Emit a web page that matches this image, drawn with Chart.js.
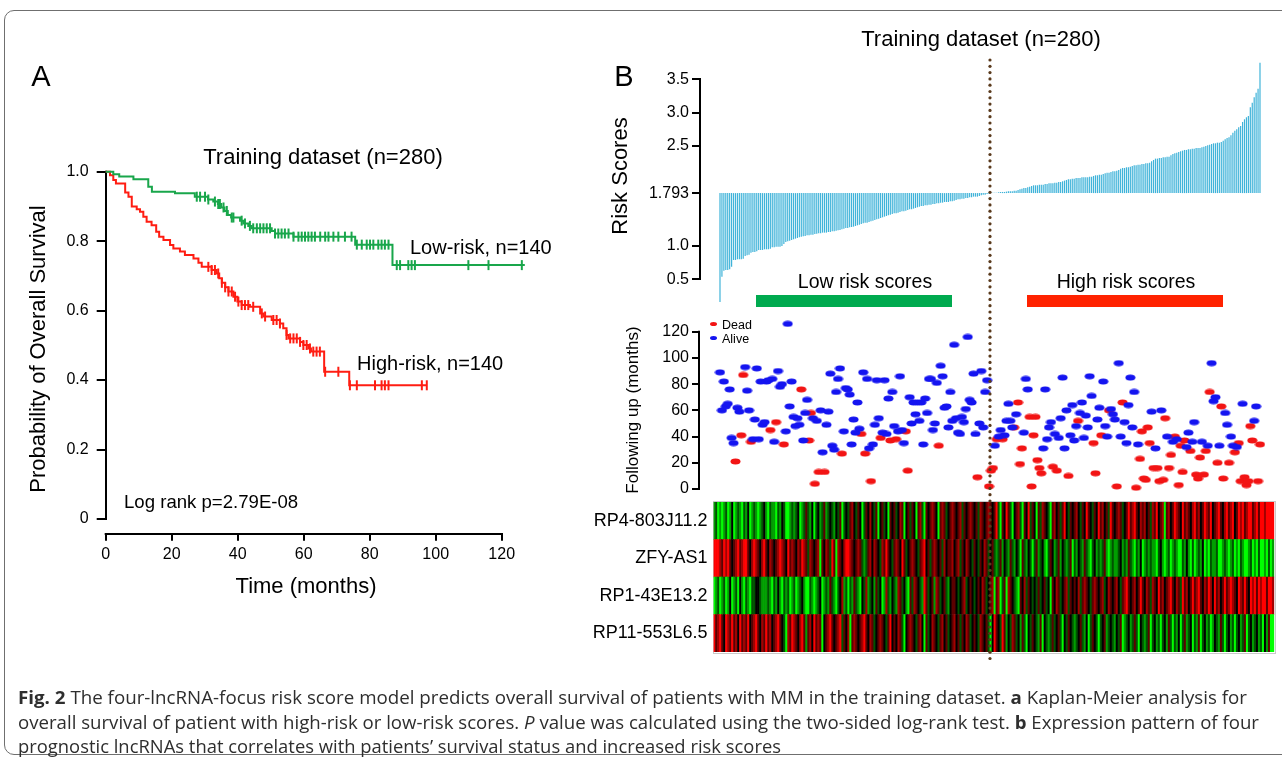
<!DOCTYPE html>
<html>
<head>
<meta charset="utf-8">
<title>Fig. 2 - four-lncRNA risk score model</title>
<script src="https://cdn.jsdelivr.net/npm/chart.js@4.4.1/dist/chart.umd.min.js"></script>
<style>
html,body{margin:0;padding:0;background:#fff;}
body{position:relative;width:1282px;height:757px;overflow:hidden;font-family:"Liberation Sans",Arial,Helvetica,sans-serif;color:#000;}
canvas.layer{position:absolute;left:0;top:0;}
.txt{position:absolute;white-space:nowrap;line-height:1;}
#frame{position:absolute;left:4px;top:10px;width:1300px;height:743px;border:1px solid #6f6f6f;border-radius:10px;}
.cap{position:absolute;left:18px;white-space:nowrap;line-height:1;font-family:"Open Sans","Liberation Sans",sans-serif;font-size:18px;color:#2e2e2e;transform-origin:0 50%;}
.legdot{position:absolute;width:7px;height:4px;border-radius:50%;}
.hbar{position:absolute;height:12px;}
#heatbox{position:absolute;left:713px;top:501px;width:561px;height:151px;border:1px solid #c8c8c8;}
</style>
</head>
<body>
<div id="frame"></div>
<canvas id="km" class="layer" width="1282" height="757"></canvas>
<canvas id="risk" class="layer" width="1282" height="757"></canvas>
<canvas id="fu" class="layer" width="1282" height="757"></canvas>
<div id="heatbox"></div>
<canvas id="heat" class="layer" width="1282" height="757"></canvas>
<canvas id="dots" class="layer" width="1282" height="757"></canvas>
<div id="texts"></div>
<script>
// ---------------- DATA ----------------
// Panel A: Kaplan-Meier step points (time in months, survival probability)
const kmLowTime  = [0, 2.3, 4.1, 8.4, 12.9, 14, 21, 27, 31, 32.6, 34, 35, 36, 37, 38, 40.7, 41.7, 43.2, 44.2, 50.3, 51.3, 56.9, 75.6, 86.9, 127];
const kmLowSurv  = [1, 0.993, 0.986, 0.978, 0.957, 0.942, 0.938, 0.928, 0.92, 0.914, 0.907, 0.897, 0.887, 0.875, 0.868, 0.859, 0.851, 0.844, 0.837, 0.829, 0.822, 0.813, 0.79, 0.731, 0.731];
const kmHighTime = [0, 1.3, 2.3, 3.1, 5.9, 6.9, 7.9, 9.4, 10.4, 11.4, 12.4, 13.9, 15.3, 16.2, 17.5, 19.5, 20.5, 22.5, 24, 26.6, 28.1, 29.1, 32.1, 33.6, 34.4, 35.2, 36.2, 37.2, 38.7, 39.9, 41.2, 43.7, 46.8, 47.8, 50.3, 52.8, 53.8, 54.8, 55.4, 58.9, 59.9, 61.4, 62.2, 66.2, 73.8, 97.3];
const kmHighSurv = [1, 0.99, 0.976, 0.966, 0.94, 0.928, 0.9, 0.892, 0.885, 0.87, 0.856, 0.846, 0.827, 0.813, 0.803, 0.789, 0.779, 0.77, 0.76, 0.75, 0.738, 0.726, 0.717, 0.707, 0.693, 0.68, 0.667, 0.655, 0.64, 0.626, 0.616, 0.611, 0.592, 0.583, 0.573, 0.563, 0.549, 0.53, 0.52, 0.51, 0.501, 0.491, 0.482, 0.424, 0.385, 0.385];
const kmLowCensor  = [27.6, 28.6, 30.1, 31.1, 33.1, 34.1, 34.6, 35.7, 36.7, 38.2, 38.7, 41.2, 42.2, 43.7, 44.7, 45.8, 46.8, 47.8, 48.8, 49.8, 51.3, 52.3, 53.3, 54.3, 55.4, 56.9, 58.4, 59.4, 60.4, 61.4, 62.4, 63.4, 65, 66.5, 67.5, 69, 70.5, 72.5, 74.5, 76.1, 77.6, 79.1, 80.1, 81.1, 82.6, 83.6, 84.6, 85.7, 88.2, 89.2, 91.7, 92.7, 93.7, 109.9, 116, 126.1];
const kmHighCensor = [31.1, 32.1, 33.1, 34.1, 35.2, 36.2, 37.2, 38.2, 39.2, 40.2, 41.2, 42.2, 43.2, 44.7, 47.3, 48.3, 50.8, 51.8, 52.8, 54.8, 55.9, 56.9, 57.9, 58.9, 59.9, 60.9, 61.9, 62.9, 63.9, 64.9, 66.5, 70.5, 74.0, 76.1, 81.6, 83.6, 84.6, 85.7, 95.8, 97.3];
const kmXTicks = [0, 20, 40, 60, 80, 100, 120];
const kmYTicks = [0, 0.2, 0.4, 0.6, 0.8, 1.0];

// Panel B: sorted risk scores of 280 patients (cut-off 1.793)
const RISK_CUT = 1.793;
const riskScores = [
 0.16,0.54,0.63,0.64,0.64,0.65,0.69,0.79,0.79,0.80, 0.80,0.80,0.81,0.85,0.86,0.87,0.90,0.91,0.91,0.92,
 0.94,0.94,0.94,0.95,0.95,0.95,0.96,0.98,0.98,0.99, 0.99,0.99,1.00,1.03,1.06,1.07,1.08,1.09,1.10,1.11,
 1.12,1.13,1.14,1.145,1.15,1.16,1.16,1.17,1.17,1.18, 1.185,1.19,1.19,1.20,1.20,1.20,1.21,1.21,1.22,1.22,
 1.23,1.235,1.24,1.25,1.26,1.27,1.27,1.28,1.285,1.29, 1.30,1.31,1.32,1.33,1.34,1.35,1.35,1.36,1.37,1.38,
 1.39,1.40,1.41,1.42,1.43,1.44,1.45,1.46,1.47,1.48, 1.49,1.49,1.50,1.51,1.52,1.52,1.53,1.54,1.55,1.55,
 1.56,1.57,1.58,1.59,1.60,1.60,1.61,1.61,1.62,1.62, 1.63,1.63,1.64,1.64,1.65,1.65,1.66,1.66,1.66,1.67,
 1.67,1.68,1.69,1.70,1.70,1.71,1.71,1.72,1.72,1.73, 1.73,1.74,1.74,1.74,1.75,1.76,1.77,1.77,1.78,1.785,
 1.795,1.80,1.80,1.80,1.805,1.81,1.81,1.81,1.815,1.82, 1.82,1.82,1.83,1.83,1.84,1.85,1.86,1.87,1.87,1.88,
 1.89,1.90,1.91,1.91,1.91,1.92,1.92,1.92,1.93,1.93, 1.94,1.94,1.94,1.95,1.95,1.96,1.96,1.97,1.98,1.99,
 2.00,2.00,2.01,2.01,2.02,2.02,2.02,2.03,2.03,2.03, 2.03,2.04,2.04,2.05,2.06,2.06,2.07,2.07,2.08,2.09,
 2.10,2.10,2.11,2.12,2.12,2.13,2.14,2.16,2.17,2.17, 2.18,2.18,2.19,2.20,2.21,2.21,2.22,2.22,2.23,2.23,
 2.24,2.24,2.25,2.27,2.29,2.31,2.31,2.32,2.32,2.33, 2.33,2.34,2.34,2.36,2.38,2.39,2.40,2.41,2.42,2.43,
 2.44,2.44,2.45,2.45,2.46,2.46,2.47,2.47,2.47,2.48, 2.49,2.50,2.51,2.52,2.53,2.54,2.54,2.55,2.55,2.56,
 2.58,2.60,2.62,2.63,2.66,2.70,2.73,2.75,2.78,2.80, 2.86,2.90,2.93,2.95,3.08,3.15,3.23,3.30,3.36,3.75
];
const riskTicks = [0.5, 1.0, 1.793, 2.5, 3.0, 3.5];
const riskTickLabels = ['0.5', '1.0', '1.793', '2.5', '3.0', '3.5'];

// Follow-up time (months) per patient, same order as riskScores; status 1 = Dead, 0 = Alive
const followMonths = [
 89,60,82,63,65,76,39,35,21,62, 59,41,87,93,75,60,36,38,53,92, 38,82,49,51,82,83,45,84,36,51,
 90,78,80,34,44,126,63,82,55,48, 54,49,76,37,58,68,37,58,54,4, 52,13,60,28,13,49,59,88,33,30,
 74,84,92,27,44,77,76,72,34,53, 43,66,46,42,89,27,84,31,6,34, 49,83,54,39,43,83,42,69,37,74,
 48,38,44,86,45,35,44,14,70,50, 66,57,66,52,66,34,69,58,84,84, 45,50,81,33,94,86,62,63,47,74,
 52,110,54,43,42,55,51,61,116,68, 66,88,42,9,50,90,47,74,83,2,
 14,16,33,38,40,45,38,41,52,65, 52,47,47,57,66,19,31,43,84,76, 55,2,41,55,22,16,12,31,76,38,
 47,51,17,42,14,39,54,85,31,60, 10,41,64,37,48,52,58,66,39,56, 47,86,71,35,12,53,62,41,82,48,
 40,60,61,57,53,2,96,40,66,51, 35,64,85,47,74,1,34,23,44,8, 7,47,35,59,16,31,16,6,60,7,
 54,40,16,26,36,40,38,3,33,13, 37,32,43,29,36,51,11,8,24,36, 11,29,33,74,96,67,70,20,33,63,
 8,58,49,20,40,33,28,32,35,6, 65,9,3,6,48,37,52,63,6,34
];
const followDead = [
 0,0,0,0,0,0,0,0,1,0, 0,1,1,0,0,0,1,0,0,0, 0,0,0,0,0,0,1,0,0,1, 0,0,0,1,0,0,0,0,0,0,
 0,0,1,0,0,0,1,1,0,1, 0,1,0,0,1,0,0,0,0,0, 0,0,0,1,0,0,0,0,0,0, 0,0,0,1,0,1,0,0,1,0,
 0,0,0,1,0,0,0,0,1,0, 0,1,0,0,0,0,1,1,0,0, 0,0,0,0,0,0,0,0,0,0, 0,0,0,1,0,0,0,0,0,0,
 0,0,0,0,0,0,0,0,0,0, 0,0,0,1,0,0,0,0,0,1,
 1,1,0,1,0,0,1,0,0,0, 0,0,1,0,1,1,1,0,0,0, 1,1,1,1,1,1,1,0,0,0, 0,0,1,0,1,0,0,0,0,0,
 1,0,0,0,0,1,0,0,0,0, 0,0,0,1,1,0,0,1,0,0, 0,1,0,0,0,1,0,0,1,0, 0,0,0,0,0,1,0,1,1,1,
 1,1,1,0,1,0,1,1,0,1, 1,0,1,1,0,1,0,1,1,1, 1,0,0,1,0,0,1,1,1,0, 1,1,0,1,0,0,0,1,0,1,
 1,0,0,1,0,0,1,0,1,1, 0,1,1,1,1,1,0,0,1,1
];
const followTicks = [0, 20, 40, 60, 80, 100, 120];

// Heatmap: expression level codes per patient (G bright green ... k black ... R bright red)
const heatGenes = ['RP4-803J11.2', 'ZFY-AS1', 'RP1-43E13.2', 'RP11-553L6.5'];
const heatRP4 = [
 'gdGgGgdGgk','GgdgGdgkGg','dgGgdkgGdg','gGdgkdGGgd','gdkGgdmdgk','Gdkgdmgdkd','gkdmGdkdmr',
 'kdmkGdmkrk','dmGkmdkGmk','mdkrmGkmdm','kGmrdGmkmr','mkGmrmdkmr','mkmrdmkmrm','kmdrmkmrmk',
 'mRdGmkRmdG','kmrdGmkRdm','kGmdrmkdGm','rkmdmRkdmk','mrkdmkRmkd','mkRmrkmdRm','kmrmdkmRmr',
 'Rmkrmrkmdr','mRkmrGmrkm','RrmkRmrmkr','RmrkmRrmRk','mrRmkrRmrR','kmRrRmrRRm','rRmRRrRRRR'
];
const heatZFY = [
 'RRRrmRrRmk','mrRmrRRmkr','RrmkrRmkrm','kmrRrmkRmr','mkrmRrmdrm','kmrGmkrmdR','mGrmkrRRrm',
 'kmrmdgdmrk','rmkdrmRmkd','mrmkRmdkmr','mkdmrRkmdm','rmkmdrkmmr','kmrdmkrmkd','mkdmkrmdkm',
 'dgdmgkdgmd','gkdGmdgkdG','dmgdkgGdmk','gdmgkdgdmG','dgkdgmdgGd','kgdgdmgGgd','ggdkgdgmdg',
 'GdgkGgdgdg','gGdkgGgdGg','dgGGdgkgGd','GgdgkGgGdg','gdGGgdgGgd','GgGdgGGgdG','gGdGGgGdGg'
];
const heatRP1 = [
 'GgdGgdGgkG','gdGkgGdgGd','dkkdgggdgG','dgkgGdgdGg','dGgdkgGGdg','GgdkGgdgmd','gGdkrgdGdg',
 'mdgGkdrgdk','gmdkGgrdgk','dgrmdkgGmd','rmkdgRmdkm','grmdkmdgkm','mkdkmrdkmk','dkmkrmdkmr',
 'GmrGdmGrmk','dgGmkrdmkd','kdmdkmdkGm','krmdkmrdmk','mkrdmrmkdm','rmkmrdkrmk','mrkdmrRmkm',
 'rkmRmkrmdr','mkRmrkmrRm','krmdRmrkmR','mrRmkrmRrk','RmrkmRmrRr','mkRrmRmkRr','RmRrRRmRRr'
];
const heatRP11 = [
 'RmrRmkRrmR','mrkRmrmRkm','rRmkrmRmrk','mrRmkdGrmR','rmkrRmgmrk','RmrmGkmrRm','kmrRdmkrGm',
 'rmkmrRmkrm','dkmrmkdmRk','mkrmdGkmrm','kdmrkGmdkr','mkdmrkmdkm','rkmdmkrmdk','mkdrmkmdGk',
 'RmkdRmgkdr','mdkgmdGkdm','kdgmGkdgdm','dkmdGkdmkd','gdkmdgkGdm','kdGdkmgdkd','gkdmGgdkgd',
 'mdGkdgdmGd','kgdGdkgmdG','dgkGdmgdkG','dgmGdkgdGg','kdgmdGdkgd','GdkgdmGdkg','dkgdGkgmGG'
];
const heatLevel = {G: -1, g: -0.62, d: -0.32, k: 0, m: 0.36, r: 0.64, R: 1};

// ---------------- HELPERS ----------------
const FONT = '"Liberation Sans", Arial, Helvetica, sans-serif';
Chart.defaults.font.family = FONT;
Chart.defaults.color = '#000';
const GREEN = '#19a64b', RED = '#ff1d12', BLUE_BAR = '#3fb3d9';

const fixW = w => s => { s.width = w; };
const fixH = h => s => { s.height = h; };
const setTicks = vals => s => { s.ticks = vals.map(v => ({value: v})); };
function survAt(times, surv, t) { let s = surv[0]; for (let i = 0; i < times.length; i++) if (times[i] <= t) s = surv[i]; return s; }
function levelColor(c) {
  const v = heatLevel[c];
  return v < 0 ? `rgb(0,${Math.round(-v * 255)},0)` : `rgb(${Math.round(v * 255)},0,0)`;
}
function ellipseImg(color) {
  const c = document.createElement('canvas'); c.width = 11; c.height = 7;
  const x = c.getContext('2d'); x.fillStyle = color; x.beginPath(); x.ellipse(5.5, 3.5, 5, 2.9, 0, 0, Math.PI * 2); x.fill();
  return c;
}
const W = 1282, H = 757;
const baseOpts = {responsive: false, animation: false, devicePixelRatio: 1, events: [],
  plugins: {legend: {display: false}, tooltip: {enabled: false}}};
const tickGrid = (len) => ({display: true, drawOnChartArea: false, drawTicks: true, tickLength: len, color: '#000', lineWidth: 2});

// ---------------- PANEL A : KM ----------------
(function () {
  const areaL = 105.7, pxPerMonth = 3.3, xMax = 130, areaTop = 171.7, areaBottom = 532.7;
  const y0 = 519; // pixel of survival 0
  const yMin = -(areaBottom - y0) / (y0 - areaTop);
  const areaR = areaL + xMax * pxPerMonth;
  const kmAxis = {id: 'kmAxis', beforeDatasetsDraw(c) {
    const ctx = c.ctx, xs = c.scales.x, ys = c.scales.y;
    ctx.save(); ctx.strokeStyle = '#000'; ctx.lineWidth = 2;
    const px = Math.round(xs.getPixelForValue(0));
    ctx.beginPath(); ctx.moveTo(px, ys.getPixelForValue(1) - 1); ctx.lineTo(px, ys.getPixelForValue(0) + 1); ctx.stroke();
    const py = Math.round(c.chartArea.bottom) + 1;
    ctx.beginPath(); ctx.moveTo(xs.getPixelForValue(0) - 1, py); ctx.lineTo(xs.getPixelForValue(120) + 1, py); ctx.stroke();
    ctx.restore();
  }};
  new Chart(document.getElementById('km'), {
    type: 'line',
    data: {datasets: [
      {data: kmLowTime.map((t, i) => ({x: t, y: kmLowSurv[i]})), stepped: 'before', borderColor: GREEN, borderWidth: 2, pointRadius: 0, fill: false, clip: false},
      {data: kmHighTime.map((t, i) => ({x: t, y: kmHighSurv[i]})), stepped: 'before', borderColor: RED, borderWidth: 2, pointRadius: 0, fill: false, clip: false},
      {data: kmLowCensor.map(t => ({x: t, y: survAt(kmLowTime, kmLowSurv, t)})), showLine: false, pointStyle: 'line', pointRotation: 90, pointRadius: 5, pointBorderWidth: 2, pointBorderColor: GREEN, borderColor: GREEN, clip: false},
      {data: kmHighCensor.map(t => ({x: t, y: survAt(kmHighTime, kmHighSurv, t)})), showLine: false, pointStyle: 'line', pointRotation: 90, pointRadius: 5, pointBorderWidth: 2, pointBorderColor: RED, borderColor: RED, clip: false}
    ]},
    options: Object.assign({}, baseOpts, {
      layout: {padding: {left: areaL - 60, right: W - areaR, top: areaTop, bottom: H - areaBottom - 40}},
      scales: {
        x: {type: 'linear', min: 0, max: xMax, afterFit: fixH(40), afterBuildTicks: setTicks(kmXTicks),
            border: {display: false}, grid: tickGrid(8),
            ticks: {font: {size: 16}, padding: 4, maxRotation: 0, callback: v => String(v)}},
        y: {type: 'linear', min: yMin, max: 1, afterFit: fixW(60), afterBuildTicks: setTicks(kmYTicks),
            border: {display: false}, grid: tickGrid(9),
            ticks: {font: {size: 16}, padding: 8, callback: v => (v === 0 ? '0' : v.toFixed(1))}}
      }
    }),
    plugins: [kmAxis]
  });
})();

// ---------------- PANEL B : risk scores ----------------
const xMinB = -10.33, xMaxB = 284.17, areaLB = 700, areaRB = 1270;
const riskChart = new Chart(document.getElementById('risk'), {
  type: 'bar',
  data: {datasets: [{data: riskScores.map((v, i) => ({x: i, y: [RISK_CUT, v]})), backgroundColor: BLUE_BAR,
    borderWidth: 0, barPercentage: 0.62, categoryPercentage: 1, clip: false}]},
  options: Object.assign({}, baseOpts, {
    layout: {padding: {left: areaLB - 50, right: W - areaRB, top: 79.3, bottom: H - 279.3}},
    scales: {
      x: {type: 'linear', min: xMinB, max: xMaxB, offset: false, grid: {offset: false}, display: false},
      y: {type: 'linear', min: 0.5, max: 3.5, afterFit: fixW(50), afterBuildTicks: setTicks(riskTicks),
          border: {display: true, color: '#000', width: 2}, grid: tickGrid(8),
          ticks: {font: {size: 16}, padding: 3, callback: v => riskTickLabels[riskTicks.indexOf(v)]}}
    }
  })
});

// ---------------- PANEL B : follow-up scatter ----------------
(function () {
  const top120 = 331.7, bottom0 = 489, yMax = 130;
  const pxPer = (bottom0 - top120) / 120;
  const areaTop = bottom0 - yMax * pxPer;
  const fuAxis = {id: 'fuAxis', beforeDatasetsDraw(c) {
    const ctx = c.ctx, ys = c.scales.y; ctx.save(); ctx.strokeStyle = '#000'; ctx.lineWidth = 2;
    const px = Math.round(c.chartArea.left) - 1;
    ctx.beginPath(); ctx.moveTo(px, ys.getPixelForValue(120) - 1); ctx.lineTo(px, ys.getPixelForValue(0) + 1); ctx.stroke();
    ctx.restore();
  }};
  const alive = [], dead = [];
  followMonths.forEach((m, i) => (followDead[i] ? dead : alive).push({x: i, y: m}));
  new Chart(document.getElementById('fu'), {
    type: 'scatter',
    data: {datasets: [
      {data: alive, pointStyle: ellipseImg('#1414f0'), pointRadius: 5, clip: false},
      {data: dead, pointStyle: ellipseImg('#f21414'), pointRadius: 5, clip: false}
    ]},
    options: Object.assign({}, baseOpts, {
      layout: {padding: {left: areaLB - 50, right: W - areaRB, top: areaTop, bottom: H - bottom0}},
      scales: {
        x: {type: 'linear', min: xMinB, max: xMaxB, offset: false, display: false},
        y: {type: 'linear', min: 0, max: yMax, afterFit: fixW(50), afterBuildTicks: setTicks(followTicks),
            border: {display: false}, grid: tickGrid(8),
            ticks: {font: {size: 16}, padding: 3}}
      }
    }),
    plugins: [fuAxis]
  });
})();

// ---------------- PANEL B : heatmap ----------------
(function () {
  const rows = [heatRP11, heatRP1, heatZFY, heatRP4]; // bottom to top
  const labelsTopDown = heatGenes;
  const n = heatRP4.join('').length;
  const cats = Array.from({length: n}, (_, i) => i);
  const datasets = rows.map(r => {
    const codes = r.join('').split('');
    return {data: codes.map(() => 1), backgroundColor: codes.map(levelColor), borderWidth: 0,
      barPercentage: 1, categoryPercentage: 1};
  });
  const yLabelPos = [3.5, 2.5, 1.5, 0.5];
  new Chart(document.getElementById('heat'), {
    type: 'bar',
    data: {labels: cats, datasets},
    options: Object.assign({}, baseOpts, {
      layout: {padding: {left: 713.5 - 200, right: W - 1274.3, top: 502, bottom: H - 652}},
      scales: {
        x: {stacked: true, display: false},
        y: {stacked: true, min: 0, max: 4, afterFit: fixW(200), afterBuildTicks: setTicks(yLabelPos),
            border: {display: false}, grid: {display: false, drawTicks: false},
            ticks: {font: {size: 18}, padding: 6, callback: v => labelsTopDown[yLabelPos.indexOf(v)]}}
      }
    })
  });
})();

// ---------------- dotted divider (position from the risk chart x scale) ----------------
(function () {
  const xd = riskChart.scales.x.getPixelForValue(139.5);
  const ctx = document.getElementById('dots').getContext('2d');
  ctx.fillStyle = '#5a3a1c';
  for (let y = 60; y <= 662; y += 6.3) { ctx.beginPath(); ctx.arc(xd, y, 1.6, 0, Math.PI * 2); ctx.fill(); }
})();

// ---------------- texts ----------------
const T = document.getElementById('texts');
function addText(html, x, y, size, o) {
  o = o || {};
  const d = document.createElement('div'); d.className = 'txt'; d.innerHTML = html;
  d.style.fontSize = size + 'px'; d.style.left = x + 'px'; d.style.top = y + 'px';
  if (o.color) d.style.color = o.color;
  if (o.weight) d.style.fontWeight = o.weight;
  let tr = o.align === 'left' ? 'translate(0,-50%)' : 'translate(-50%,-50%)';
  if (o.rotate) tr += ' rotate(' + o.rotate + 'deg)';
  d.style.transform = tr; T.appendChild(d); return d;
}
addText('A', 41, 76, 29);
addText('B', 624, 76, 29);
addText('Training dataset (n=280)', 323, 157, 22);
addText('Training dataset (n=280)', 981, 39, 22);
addText('Probability of Overall Survival', 38, 349, 22, {rotate: -90});
addText('Time (months)', 306, 586, 22);
addText('Low-risk, n=140', 410, 247, 20, {align: 'left'});
addText('High-risk, n=140', 357, 363, 20, {align: 'left'});
addText('Log rank p=2.79E-08', 124, 502, 18.6, {align: 'left'});
addText('Risk Scores', 620, 176, 22, {rotate: -90});
addText('Low risk scores', 865, 282, 19.5);
addText('High risk scores', 1126, 282, 19.5);
addText('Following up (months)', 632, 410, 17, {rotate: -90});
addText('Dead', 722, 325, 12.5, {align: 'left'});
addText('Alive', 722, 339, 12.5, {align: 'left'});
[['#f21414', 324], ['#1414f0', 338]].forEach(([c, y]) => {
  const d = document.createElement('div'); d.className = 'legdot'; d.style.background = c;
  d.style.left = '710px'; d.style.top = (y - 2) + 'px'; T.appendChild(d);
});
[['#00aa4f', 756, 952], ['#ff2200', 1027, 1223]].forEach(([c, a, b]) => {
  const d = document.createElement('div'); d.className = 'hbar'; d.style.background = c;
  d.style.left = a + 'px'; d.style.width = (b - a) + 'px'; d.style.top = '295px'; T.appendChild(d);
});
const capLines = [
  ['<b>Fig. 2</b> The four-lncRNA-focus risk score model predicts overall survival of patients with MM in the training dataset. <b>a</b> Kaplan-Meier analysis for', 697, 1247],
  ['overall survival of patient with high-risk or low-risk scores. <i>P</i> value was calculated using the two-sided log-rank test. <b>b</b> Expression pattern of four', 722, 1259],
  ['prognostic lncRNAs that correlates with patients\u2019 survival status and increased risk scores', 746, 781]
];
capLines.forEach(([h, y, right]) => {
  const d = document.createElement('div'); d.className = 'cap'; d.innerHTML = h; d.style.top = y + 'px';
  T.appendChild(d);
  const w = d.getBoundingClientRect().width;
  const k = (right - 18) / w;
  d.style.transform = 'translateY(-50%) scaleX(' + k.toFixed(4) + ')';
});
</script>
</body>
</html>
